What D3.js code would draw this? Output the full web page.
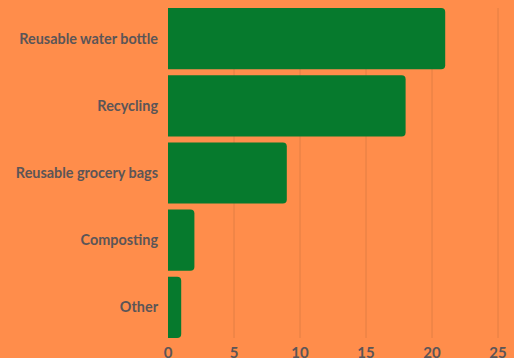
<!DOCTYPE html>
<html>
<head>
<meta charset="utf-8">
<script src="https://cdn.jsdelivr.net/npm/d3@7"></script>
<style>
  html, body { margin: 0; padding: 0; background: #FF8D4B; }
  text { font-family: Lato, sans-serif; font-weight: 700; fill: #5b5557; }
</style>
</head>
<body>
<svg id="mainsvg" width="514" height="358"></svg>
<script>
var categories = ["Reusable water bottle", "Recycling", "Reusable grocery bags", "Composting", "Other"];
var values = [21, 18, 9, 2, 1];
var ticks = [0, 5, 10, 15, 20, 25];

var svg = d3.select("#mainsvg");
svg.append("rect").attr("width", 514).attr("height", 358).attr("fill", "#FF8D4B");

var x = d3.scaleLinear().domain([0, 25]).range([168, 498]);
var y = d3.scaleBand().domain(categories).range([5, 341]).paddingInner(0.09).paddingOuter(0.045);

// grid
svg.append("g").selectAll("line")
  .data(ticks.slice(1))
  .enter()
  .append("line")
  .attr("x1", function (d) { return x(d); })
  .attr("x2", function (d) { return x(d); })
  .attr("y1", 8)
  .attr("y2", 338)
  .attr("stroke", "#E27E45")
  .attr("stroke-width", 1);

var r = 4;
svg.append("g").selectAll("path")
  .data(values)
  .enter()
  .append("path")
  .attr("fill", "#067A2D")
  .attr("d", function (d, i) {
    var x0 = x(0), x1 = x(d), y0 = y(categories[i]), h = y.bandwidth();
    return "M" + x0 + "," + y0 +
      "H" + (x1 - r) +
      "Q" + x1 + "," + y0 + " " + x1 + "," + (y0 + r) +
      "V" + (y0 + h - r) +
      "Q" + x1 + "," + (y0 + h) + " " + (x1 - r) + "," + (y0 + h) +
      "H" + x0 + "Z";
  });

// category labels
svg.append("g").selectAll("text")
  .data(categories)
  .enter()
  .append("text")
  .attr("x", 158)
  .attr("y", function (d) { return y(d) + y.bandwidth() / 2; })
  .attr("dy", "0.35em")
  .attr("text-anchor", "end")
  .attr("font-size", 14.4)
  .text(function (d) { return d; });

// x tick labels
svg.append("g").selectAll("text")
  .data(ticks)
  .enter()
  .append("text")
  .attr("x", function (d) { return x(d); })
  .attr("y", 358)
  .attr("text-anchor", "middle")
  .attr("font-size", 15)
  .text(function (d) { return d; });
</script>
</body>
</html>
